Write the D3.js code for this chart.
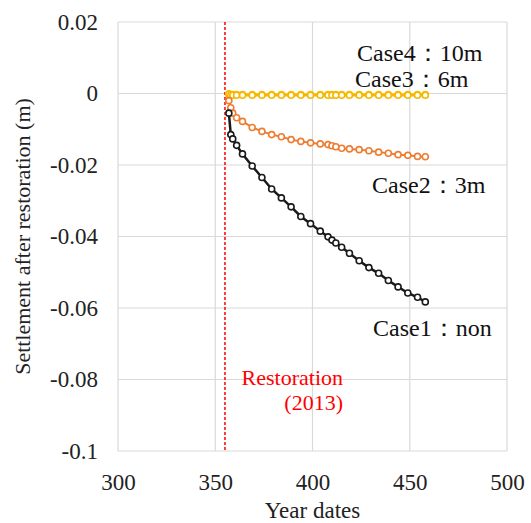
<!DOCTYPE html>
<html>
<head>
<meta charset="utf-8">
<script src="https://cdn.jsdelivr.net/npm/d3@7"></script>
<style>
  body { margin: 0; background: #fff; }
</style>
</head>
<body>
<div id="chart"></div>
<script>
// Year dates (x) shared by all cases
let dates = [357, 358, 359, 361, 364, 369, 374, 379, 384, 389, 394, 399, 404, 408,
             410, 412, 415, 419, 424, 429, 434, 439, 444, 449, 454, 458];

// Settlement after restoration (m)
let case1 = [-0.0055, -0.0115, -0.0127, -0.0145, -0.0169, -0.0203, -0.0235, -0.0267, -0.0292, -0.0317, -0.0344, -0.0364, -0.0385, -0.0401,
             -0.0410, -0.0418, -0.0430, -0.0447, -0.0468, -0.0487, -0.0503, -0.0523, -0.0541, -0.0558, -0.0570, -0.0583];
let case2 = [-0.0020, -0.0040, -0.0055, -0.0068, -0.0078, -0.0095, -0.0106, -0.0115, -0.0121, -0.0129, -0.0134, -0.0138, -0.0141, -0.0143,
             -0.0146, -0.0149, -0.0153, -0.0155, -0.0157, -0.0160, -0.0164, -0.0167, -0.0171, -0.0173, -0.0176, -0.0177];
let case3 = [-0.0003, -0.0005, -0.0005, -0.0005, -0.0005, -0.0005, -0.0005, -0.0005, -0.0005, -0.0005, -0.0005, -0.0005, -0.0005, -0.0005,
             -0.0005, -0.0005, -0.0005, -0.0005, -0.0005, -0.0005, -0.0005, -0.0005, -0.0005, -0.0005, -0.0005, -0.0005];
let case4 = [-0.0001, -0.0003, -0.0003, -0.0003, -0.0003, -0.0003, -0.0003, -0.0003, -0.0003, -0.0003, -0.0003, -0.0003, -0.0003, -0.0003,
             -0.0003, -0.0003, -0.0003, -0.0003, -0.0003, -0.0003, -0.0003, -0.0003, -0.0003, -0.0003, -0.0003, -0.0003];

let xTicks = [300, 350, 400, 450, 500];
let yTicks = [0.02, 0, -0.02, -0.04, -0.06, -0.08, -0.1];
let restorationDate = 355;

let serif = '"Liberation Serif"';

let w = 531;
let h = 523;
let margin = {top: 22, right: 24, bottom: 72, left: 118};

let svg = d3.select("#chart")
    .append("svg")
    .attr("width", w)
    .attr("height", h);

let x = d3.scaleLinear().domain([300, 500]).range([margin.left, w - margin.right]);
let y = d3.scaleLinear().domain([-0.1, 0.02]).range([h - margin.bottom, margin.top]);

// Gridlines
svg.append("g")
    .selectAll("line.vgrid")
    .data(xTicks)
    .join("line")
    .attr("x1", d => x(d)).attr("x2", d => x(d))
    .attr("y1", y(0.02)).attr("y2", y(-0.1))
    .attr("stroke", "#d9d9d9")
    .attr("stroke-width", 1.2);

svg.append("g")
    .selectAll("line.hgrid")
    .data(yTicks)
    .join("line")
    .attr("x1", x(300)).attr("x2", x(500))
    .attr("y1", d => y(d)).attr("y2", d => y(d))
    .attr("stroke", "#d9d9d9")
    .attr("stroke-width", 1.2);

// Axes (labels only, Excel style)
let xAxis = svg.append("g")
    .attr("transform", `translate(0, ${y(-0.1)})`)
    .call(d3.axisBottom(x).tickValues(xTicks).tickSize(0).tickPadding(23).tickFormat(d3.format("d")));
xAxis.select(".domain").remove();
xAxis.attr("font-family", null).attr("font-size", null);
xAxis.selectAll("text").attr("font-size", 23).attr("fill", "#222").style("font-family", serif);

let yAxis = svg.append("g")
    .attr("transform", `translate(${x(300)}, 0)`)
    .call(d3.axisLeft(y).tickValues(yTicks).tickSize(0).tickPadding(20).tickFormat(d => d === 0 ? "0" : String(+d.toFixed(2))));
yAxis.select(".domain").remove();
yAxis.attr("font-family", null).attr("font-size", null);
yAxis.selectAll("text").attr("font-size", 23).attr("fill", "#222").style("font-family", serif);

// Axis titles
svg.append("text")
    .attr("x", (x(300) + x(500)) / 2)
    .attr("y", 518)
    .attr("text-anchor", "middle")
    .attr("font-size", 23)
    .attr("fill", "#222")
    .style("font-family", serif)
    .text("Year dates");

svg.append("text")
    .attr("transform", `translate(30, ${(y(0.02) + y(-0.1)) / 2}) rotate(-90)`)
    .attr("text-anchor", "middle")
    .attr("font-size", 22)
    .attr("fill", "#222")
    .style("font-family", serif)
    .text("Settlement after restoration (m)");

// Restoration line
svg.append("line")
    .attr("x1", x(restorationDate)).attr("x2", x(restorationDate))
    .attr("y1", y(0.02)).attr("y2", y(-0.1))
    .attr("stroke", "#ff0000")
    .attr("stroke-width", 1.5)
    .attr("stroke-dasharray", "3,2");

// Series
let series = [
    {name: "case4", values: case4, color: "#ffc000", width: 2.5},
    {name: "case3", values: case3, color: "#f5b800", width: 2.5},
    {name: "case2", values: case2, color: "#ed7d31", width: 2},
    {name: "case1", values: case1, color: "#1a1a1a", width: 2.5}
];

let line = d3.line()
    .x((d, i) => x(dates[i]))
    .y(d => y(d));

for (let s of series) {
    let g = svg.append("g").attr("class", s.name);
    g.append("path")
        .attr("d", line(s.values))
        .attr("fill", "none")
        .attr("stroke", s.color)
        .attr("stroke-width", s.width);
    g.selectAll("circle")
        .data(s.values)
        .join("circle")
        .attr("cx", (d, i) => x(dates[i]))
        .attr("cy", d => y(d))
        .attr("r", 3)
        .attr("fill", "#fff")
        .attr("stroke", s.color)
        .attr("stroke-width", 1.6);
}

// Labels
let labels = [
    {text: "Case4：10m", x: 357, y: 61, size: 24, color: "#111", anchor: "start"},
    {text: "Case3：6m", x: 355, y: 87, size: 24, color: "#111", anchor: "start"},
    {text: "Case2：3m", x: 372, y: 193, size: 24, color: "#111", anchor: "start"},
    {text: "Case1：non", x: 373, y: 336, size: 24, color: "#111", anchor: "start"},
    {text: "Restoration", x: 343, y: 385, size: 22, color: "#ff0000", anchor: "end"},
    {text: "(2013)", x: 343, y: 410, size: 22, color: "#ff0000", anchor: "end"}
];

svg.append("g")
    .selectAll("text")
    .data(labels)
    .join("text")
    .attr("x", d => d.x)
    .attr("y", d => d.y)
    .attr("text-anchor", d => d.anchor)
    .attr("fill", d => d.color)
    .attr("font-size", d => d.size)
    .style("font-family", serif)
    .text(d => d.text);
</script>
</body>
</html>
